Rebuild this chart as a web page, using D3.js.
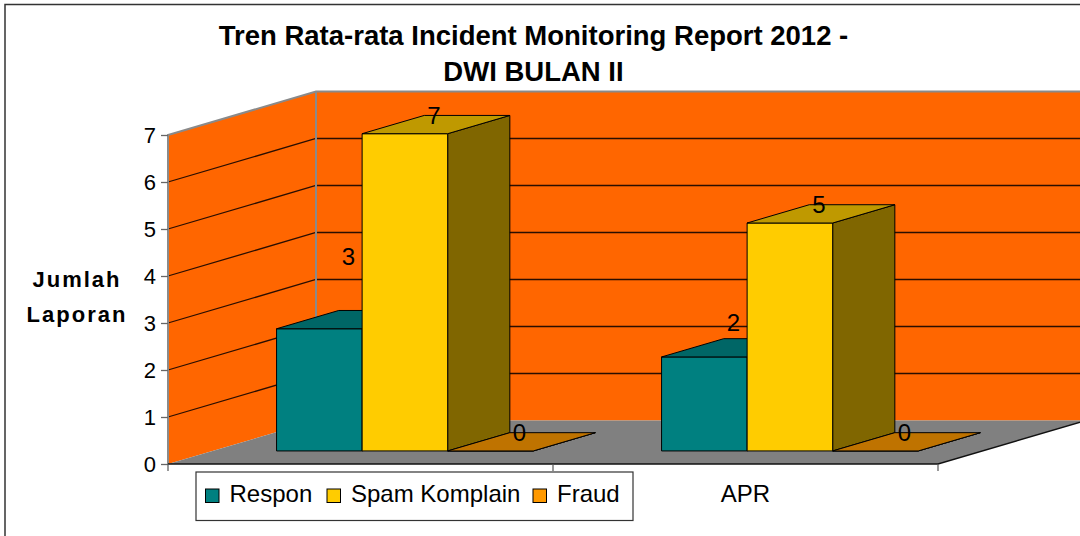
<!DOCTYPE html>
<html>
<head>
<meta charset="utf-8">
<script src="https://cdn.jsdelivr.net/npm/d3@7"></script>
<style>
  html, body { margin: 0; padding: 0; background: #fff; }
  svg { display: block; }
  text { font-family: "Liberation Sans", Arial, sans-serif; }
</style>
</head>
<body>
<svg id="chart" width="1080" height="536"></svg>
<script>
// ---- data ----
const titleLines = ["Tren Rata-rata Incident Monitoring Report 2012 -", "DWI BULAN II"];
const yTitleLines = ["Jumlah", "Laporan"];
const categories = ["MAR", "APR"];
const seriesNames = ["Respon", "Spam Komplain", "Fraud"];
const respon = [2.6, 2.0];
const spamKomplain = [6.75, 4.85];
const fraud = [0, 0];
const yTicks = [0, 1, 2, 3, 4, 5, 6, 7];
// Excel 3D quirk: Respon value labels float above their bars (pixels)
const responLabelLift = [54, 16];

// ---- styles ----
const faceColors = {
  "Respon":        { front: "#008080", top: "#006666", side: "#004c4c" },
  "Spam Komplain": { front: "#FFCC00", top: "#BF9900", side: "#806600" },
  "Fraud":         { front: "#FF9900", top: "#BF7300", side: "#805000" }
};
const wallColor = "#FF6600", floorColor = "#808080";

const svg = d3.select("#chart");

// ---- scales ----
const x = d3.scaleBand().domain(categories).range([168, 938]).padding(0);
const y = d3.scaleLinear().domain([0, 7]).range([464, 135]);
const depth = { dx: 148, dy: -43.5 };   // oblique depth vector of the plot box
const barT0 = 0.3, barT1 = 0.72;         // bar front / back planes (fraction of depth)
const bw = x.bandwidth() / 4.5;          // gap width 150%
const xs = d3.scaleBand().domain(seriesNames).range([0.75 * bw, 3.75 * bw]).padding(0);

const P = (px, v, t) => [px + t * depth.dx, y(v) + t * depth.dy];
const poly = pts => "M" + pts.map(p => p.join(",")).join("L") + "Z";
const line = pts => "M" + pts.map(p => p.join(",")).join("L");

// ---- outer border ----
svg.append("rect").attr("x", 5).attr("y", 4.5).attr("width", 1200).attr("height", 700)
  .attr("fill", "#fff").attr("stroke", "#333").attr("stroke-width", 1.5);

// ---- walls & floor ----
const x0 = x.range()[0], x1 = x.range()[1];
const vMax = d3.max(yTicks);
svg.append("path").attr("d", poly([P(x0, 0, 1), P(x0, vMax, 1), P(x1, vMax, 1), P(x1, 0, 1)]))
  .attr("fill", wallColor);
svg.append("path").attr("d", poly([P(x0, 0, 0), P(x0, vMax, 0), P(x0, vMax, 1), P(x0, 0, 1)]))
  .attr("fill", wallColor);
svg.append("path").attr("d", poly([P(x0, 0, 0), P(x1, 0, 0), P(x1, 0, 1), P(x0, 0, 1)]))
  .attr("fill", floorColor);

// gridlines
const grid = yTicks.filter(v => v > 0 && v < vMax);
svg.append("g").selectAll("path").data(grid).join("path")
  .attr("d", v => line([P(x0, v, 0), P(x0, v, 1), P(x1, v, 1)]))
  .attr("fill", "none").attr("stroke", "#2a0e00").attr("stroke-width", 1.3);

// wall edges (grey)
svg.append("path").attr("d", line([P(x0, 0, 0), P(x0, vMax, 0), P(x0, vMax, 1), P(x1, vMax, 1)]))
  .attr("fill", "none").attr("stroke", "#8a8a8a").attr("stroke-width", 2);
svg.append("path").attr("d", line([P(x0, 0, 1), P(x0, vMax, 1)]))
  .attr("fill", "none").attr("stroke", "#8a8a8a").attr("stroke-width", 2);

// floor front edge + right edge (black)
svg.append("path").attr("d", line([P(x0, 0, 0), P(x1, 0, 0), P(x1, 0, 1)]))
  .attr("fill", "none").attr("stroke", "#111").attr("stroke-width", 1.5);

// ---- value axis ----
const yAxis = svg.append("g").attr("transform", `translate(${x0},0)`)
  .call(d3.axisLeft(y).tickValues(yTicks).tickSize(7).tickPadding(5).tickFormat(d3.format("d")));
yAxis.select(".domain").remove();
yAxis.selectAll(".tick line").attr("stroke", "#666").attr("stroke-width", 1.3);
yAxis.selectAll(".tick text").attr("font-size", 22).attr("fill", "#000")
  .attr("font-family", "'Liberation Sans', Arial, sans-serif");

// ---- category axis ----
const edges = categories.map(c => x(c)).concat([x1]);
svg.append("g").selectAll("line").data(edges).join("line")
  .attr("x1", d => d).attr("x2", d => d).attr("y1", y(0)).attr("y2", y(0) + 7)
  .attr("stroke", "#555").attr("stroke-width", 1.2);

// legend box geometry (legend sits over the axis, hiding labels beneath it)
const legendBox = { x: 196, y: 472, w: 437, h: 48.5 };

const xAxis = svg.append("g").attr("transform", `translate(0,${y(0)})`)
  .call(d3.axisBottom(x).tickSize(0).tickPadding(21));
xAxis.select(".domain").remove();
xAxis.selectAll(".tick text").attr("font-size", 24).attr("fill", "#000")
  .attr("font-family", "'Liberation Sans', Arial, sans-serif");
// labels covered by the legend are not visible, as in the original
xAxis.selectAll(".tick").filter(c => x(c) + x.bandwidth() / 2 > legendBox.x &&
                                     x(c) + x.bandwidth() / 2 < legendBox.x + legendBox.w)
  .select("text").remove();

// ---- bars ----
const seriesVals = { "Respon": respon, "Spam Komplain": spamKomplain, "Fraud": fraud };
const barData = [];
categories.forEach((c, ci) => {
  seriesNames.forEach(s => {
    const xl = x(c) + xs(s);
    barData.push({ c, ci, s, v: seriesVals[s][ci], xl, xr: xl + bw });
  });
});
const bars = svg.append("g").selectAll("g").data(barData).join("g");
bars.append("path") // side face
  .attr("d", d => poly([P(d.xr, 0, barT0), P(d.xr, d.v, barT0), P(d.xr, d.v, barT1), P(d.xr, 0, barT1)]))
  .attr("fill", d => faceColors[d.s].side).attr("stroke", "#000").attr("stroke-width", 1)
  .attr("stroke-linejoin", "round");
bars.append("path") // front face
  .attr("d", d => poly([P(d.xl, 0, barT0), P(d.xl, d.v, barT0), P(d.xr, d.v, barT0), P(d.xr, 0, barT0)]))
  .attr("fill", d => faceColors[d.s].front).attr("stroke", "#000").attr("stroke-width", 1)
  .attr("stroke-linejoin", "round");
bars.append("path") // top face
  .attr("d", d => poly([P(d.xl, d.v, barT0), P(d.xr, d.v, barT0), P(d.xr, d.v, barT1), P(d.xl, d.v, barT1)]))
  .attr("fill", d => faceColors[d.s].top).attr("stroke", "#000").attr("stroke-width", 1)
  .attr("stroke-linejoin", "round");

// ---- data labels ----
const fmt = d3.format(".0f");
const tm = (barT0 + barT1) / 2;
svg.append("g").selectAll("text").data(barData).join("text")
  .attr("x", d => P((d.xl + d.xr) / 2, d.v, tm)[0] - 2)
  .attr("y", d => P((d.xl + d.xr) / 2, d.v, tm)[1] - 1 - (d.s === "Respon" ? responLabelLift[d.ci] : 0))
  .attr("text-anchor", "middle").attr("font-size", 24).attr("fill", "#000")
  .text(d => fmt(d.v));

// ---- legend ----
const lg = svg.append("g");
lg.append("rect").attr("x", legendBox.x).attr("y", legendBox.y)
  .attr("width", legendBox.w).attr("height", legendBox.h)
  .attr("fill", "#fff").attr("stroke", "#333").attr("stroke-width", 1.2);
const legendX = [205.5, 327, 533];
const legendColors = ["#008080", "#FFCC00", "#FF9900"];
const li = lg.selectAll("g").data(seriesNames).join("g")
  .attr("transform", (d, i) => `translate(${legendX[i]},0)`);
li.append("rect").attr("x", 0).attr("y", 489).attr("width", 13.5).attr("height", 13.5)
  .attr("fill", (d, i) => legendColors[i]).attr("stroke", "#000").attr("stroke-width", 1);
li.append("text").attr("x", 24).attr("y", 501.5).attr("font-size", 24).attr("fill", "#000")
  .text(d => d);

// ---- titles ----
svg.append("g").selectAll("text").data(titleLines).join("text")
  .attr("x", 533.5).attr("y", (d, i) => 45 + i * 36)
  .attr("text-anchor", "middle").attr("font-size", 27.5).attr("font-weight", "bold")
  .attr("fill", "#000").text(d => d);
svg.append("g").selectAll("text").data(yTitleLines).join("text")
  .attr("x", 77).attr("y", (d, i) => 287 + i * 35)
  .attr("text-anchor", "middle").attr("font-size", 22).attr("font-weight", "bold")
  .attr("letter-spacing", 2).attr("fill", "#000").text(d => d);
</script>
</body>
</html>
